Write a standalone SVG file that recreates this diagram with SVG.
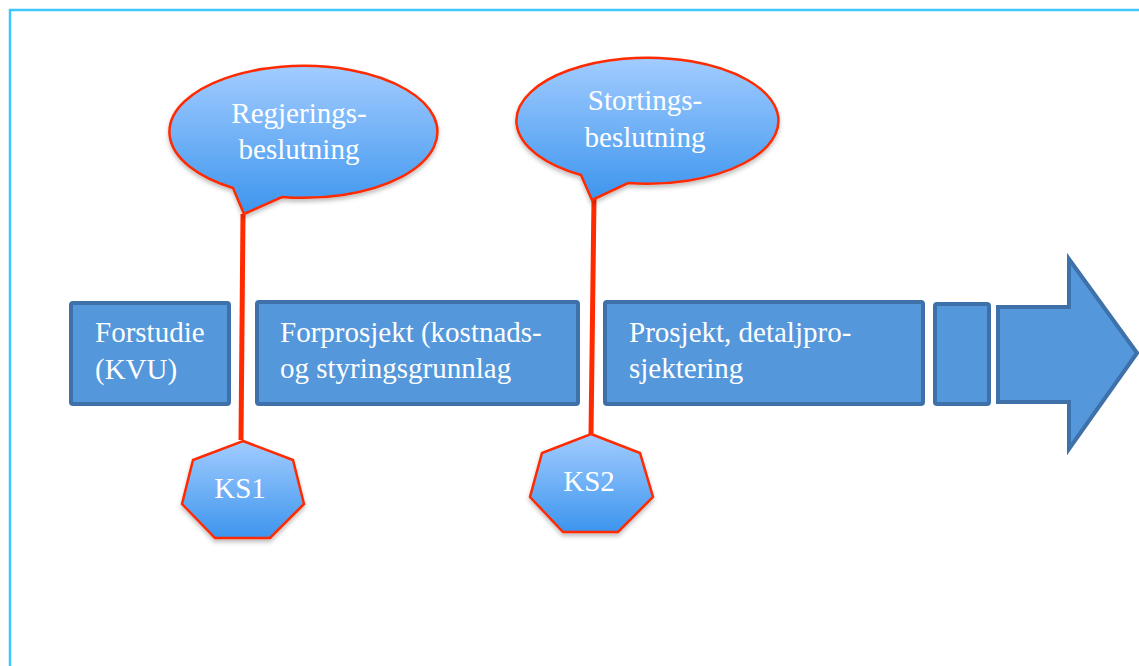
<svg xmlns="http://www.w3.org/2000/svg" width="1139" height="666" viewBox="0 0 1139 666">
<defs>
<linearGradient id="bg" x1="0" y1="0" x2="0" y2="1">
<stop offset="0" stop-color="#a2ccff"/>
<stop offset="1" stop-color="#3d95ee"/>
</linearGradient>
<filter id="sh" x="-10%" y="-10%" width="120%" height="130%">
<feDropShadow dx="0" dy="3" stdDeviation="2" flood-color="#000" flood-opacity="0.25"/>
</filter>
</defs>
<style>
.box{fill:#5497db;stroke:#3e71aa;stroke-width:4}
.red{fill:url(#bg);stroke:#ff2a00;stroke-width:2.5;filter:url(#sh)}
.conn{stroke:#ff2a00;stroke-width:5;fill:none}
text{font-family:"Liberation Serif","Times New Roman",serif;font-size:29px;fill:#ffffff}
.c{text-anchor:middle}
</style>
<rect width="1139" height="666" fill="#ffffff"/>
<path d="M10 666 V10 H1139" fill="none" stroke="#3fc6fb" stroke-width="2.5"/>
<g id="connectors">
<line class="conn" x1="243" y1="214" x2="241" y2="440"/>
<line class="conn" x1="594" y1="198" x2="591" y2="435"/>
</g>
<g id="forstudie">
<rect class="box" x="71" y="303" width="158" height="101" rx="2"/>
<text x="95" y="342">Forstudie</text>
<text x="95" y="379">(KVU)</text>
</g>
<g id="forprosjekt">
<rect class="box" x="257" y="302" width="321" height="102" rx="2"/>
<text x="280" y="342">Forprosjekt (kostnads-</text>
<text x="280" y="378">og styringsgrunnlag</text>
</g>
<g id="prosjekt">
<rect class="box" x="605" y="302" width="318" height="102" rx="2"/>
<text x="629" y="342">Prosjekt, detaljpro-</text>
<text x="629" y="378">sjektering</text>
</g>
<g id="small-box">
<rect class="box" x="935" y="304" width="54" height="100" rx="2"/>
</g>
<g id="arrow">
<polygon class="box" points="998,307 1069,307 1069,259 1137,353 1069,449 1069,402 998,402"/>
</g>
<g id="regjering">
<path class="red" d="M233 188 A134 66 0 1 1 282 197 L244 214 Z"/>
<text class="c" x="299" y="123">Regjerings-</text>
<text class="c" x="299" y="159">beslutning</text>
</g>
<g id="storting">
<path class="red" d="M581 175 A131 63 0 1 1 628 183 L592 200 Z"/>
<text class="c" x="645" y="110">Stortings-</text>
<text class="c" x="645" y="147">beslutning</text>
</g>
<g id="ks1">
<polygon class="red" points="243,441 293,460 304,504 270,538 215,538 182,504 193,460"/>
<text class="c" x="240" y="498">KS1</text>
</g>
<g id="ks2">
<polygon class="red" points="591,434 640,453 653,497 618,532 563,532 530,497 542,453"/>
<text class="c" x="589" y="491">KS2</text>
</g>
</svg>
